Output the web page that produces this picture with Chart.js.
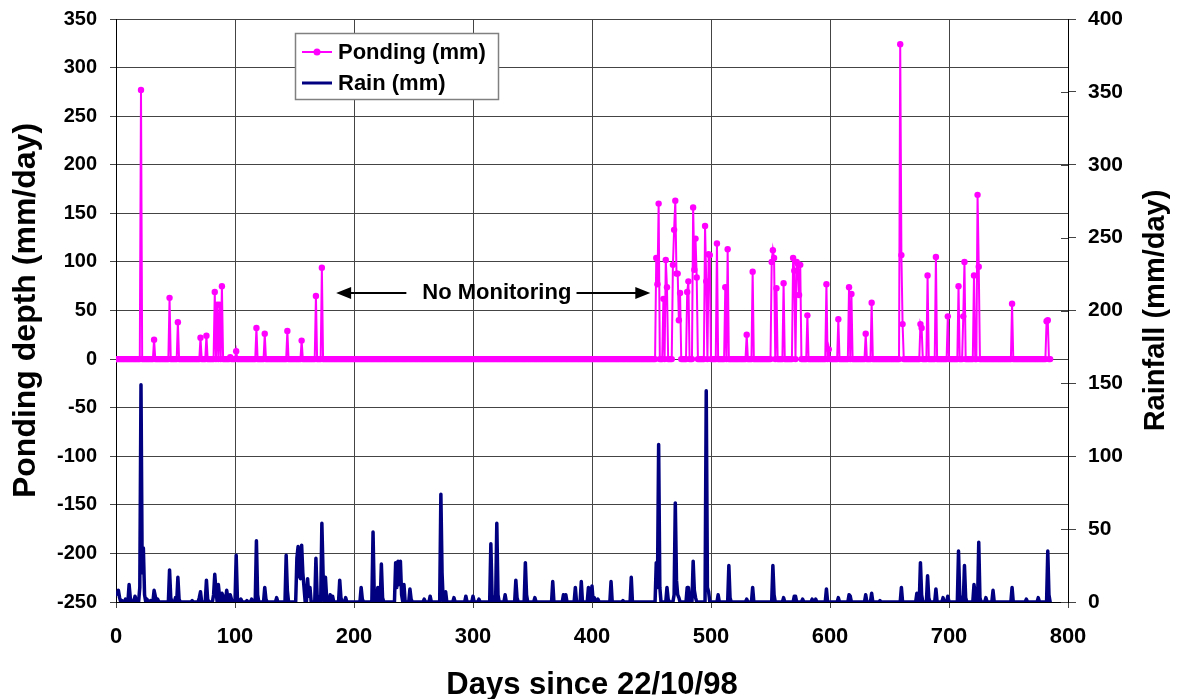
<!DOCTYPE html>
<html><head><meta charset="utf-8">
<script src="https://cdn.jsdelivr.net/npm/chart.js@4.4.0/dist/chart.umd.min.js"></script>
<style>html,body{margin:0;padding:0;background:#fff;}#wrap{width:1180px;height:699px;position:relative;}</style>
</head><body><div id="wrap"><canvas id="c" width="1180" height="699"></canvas></div>
<script>
// ---- data ----
const firstDay = 0;
const lastDay = 785;
const pondDays   = [21,32,45,52,71,76,83,85,87,89,96,101,118,125,144,156,168,173,
  454,455,456,460,462,463,468,469,470,471,472,473,474,480,481,485,486,487,488,495,496,498,499,
  505,512,514,530,535,551,552,553,555,561,569,570,572,573,574,575,581,597,599,607,616,618,630,635,
  659,660,661,676,677,682,689,699,708,712,713,721,724,725,753,782,783];
const pondValues = [277,20,63,38,22,24,69,56,56,75,2,8,32,26,29,19,65,94,
  104,77,160,62,102,74,97,133,163,88,88,40,68,69,80,156,92,124,84,137,80,108,107,
  119,74,113,25,90,100,112,104,73,78,104,91,100,98,66,97,45,77,10,41,74,67,26,58,
  324,107,36,36,32,86,105,44,75,44,100,86,169,95,57,39,40];
const rainDays   = [0,1,2,3,5,8,11,12,16,17,20,21,22,23,24,26,29,32,33,35,45,46,50,52,53,64,70,71,76,77,
  82,83,84,86,87,89,90,93,94,96,97,101,102,105,110,114,118,119,125,126,135,143,144,152,153,154,155,156,157,
  158,161,162,163,168,169,173,174,176,177,180,182,188,189,193,206,207,216,217,220,223,224,235,236,237,238,239,240,
  242,247,248,259,264,273,274,277,284,294,300,305,315,316,320,321,327,336,337,344,345,352,367,376,378,386,
  391,397,400,402,405,416,426,433,454,455,456,457,463,464,469,470,471,472,473,480,481,485,486,487,496,497,
  498,506,515,516,530,535,552,553,561,570,571,577,585,588,597,607,616,617,630,635,642,660,673,676,677,
  682,683,689,695,699,708,709,713,714,721,722,725,726,731,737,753,765,775,783,784];
const rainValues = [5,6,8,3,1,2,12,3,4,1,10,149,20,37,5,2,1,8,4,2,22,3,3,17,2,1,3,7,15,2,
  5,19,8,12,4,6,4,8,3,5,2,32,3,2,1,2,42,5,10,2,3,32,8,30,38,18,16,39,20,
  10,16,4,10,30,5,54,20,17,3,5,4,15,3,3,10,2,48,5,10,26,3,27,10,28,12,28,5,
  12,9,2,2,4,74,20,7,3,4,4,2,40,5,54,5,5,15,3,27,5,3,14,5,5,10,
  14,10,11,3,2,14,1,17,27,10,108,10,10,2,5,68,15,5,3,10,10,28,8,3,145,10,
  7,5,25,3,2,10,25,5,3,4,4,2,2,2,9,3,5,4,5,6,1,10,6,27,5,
  18,3,9,3,4,35,5,25,3,12,5,41,3,3,8,10,2,3,35,5];
const dayTicks   = [0,100,200,300,400,500,600,700,800];
const pondTicks  = [-250,-200,-150,-100,-50,0,50,100,150,200,250,300,350];
const rainTicks  = [0,50,100,150,200,250,300,350,400];
const seriesNames = ['Ponding (mm)', 'Rain (mm)'];
const xTitle = 'Days since 22/10/98';
const yTitle = 'Ponding depth (mm/day)';
const y2Title = 'Rainfall (mm/day)';
const noteText = 'No Monitoring';

// ---- build daily series ----
function daily(days, vals){
  const m = new Map(days.map((d,i)=>[d, vals[i]]));
  const out = [];
  for (let d = firstDay; d <= lastDay; d++) out.push({x:d, y: m.has(d) ? m.get(d) : 0});
  return out;
}
const pondData = daily(pondDays, pondValues);
const rainData = daily(rainDays, rainValues);

// ---- styles ----
const FONT = "'Liberation Sans', Arial, sans-serif";
const MAG = '#FF00FF', NAVY = '#000080', GRID = '#444444';

// annotation placement (data coords)
const note = {x: 320, y: 68, leftTip: 185, leftEnd: 244, rightStart: 387, rightTip: 449};

const extras = {
  id: 'extras',
  afterDraw(chart){
    const ctx = chart.ctx, ca = chart.chartArea;
    const sx = chart.scales.x, sy = chart.scales.y, s2 = chart.scales.y2;
    ctx.save();
    // inner right ticks
    ctx.strokeStyle = GRID; ctx.lineWidth = 1;
    rainTicks.forEach(v => {
      const y = Math.round(s2.getPixelForValue(v)) + 0.5;
      ctx.beginPath(); ctx.moveTo(ca.right - 7, y); ctx.lineTo(ca.right, y); ctx.stroke();
    });
    // right title, reading bottom-to-top
    ctx.save();
    ctx.translate(1156, (ca.top + ca.bottom)/2);
    ctx.rotate(-Math.PI/2);
    ctx.fillStyle = '#000'; ctx.font = 'bold 29px ' + FONT;
    ctx.textAlign = 'center'; ctx.textBaseline = 'middle';
    ctx.fillText(y2Title, 0, 0);
    ctx.restore();
    // annotation
    const ny = sy.getPixelForValue(note.y);
    ctx.fillStyle = '#000'; ctx.font = 'bold 22px ' + FONT;
    ctx.textAlign = 'center'; ctx.textBaseline = 'middle';
    ctx.fillText(noteText, sx.getPixelForValue(note.x), ny);
    ctx.strokeStyle = '#000'; ctx.lineWidth = 2;
    const arrow = (from, tip) => {
      const fx = sx.getPixelForValue(from), tx = sx.getPixelForValue(tip);
      const dir = Math.sign(tx - fx);
      ctx.beginPath(); ctx.moveTo(fx, ny); ctx.lineTo(tx - dir*12, ny); ctx.stroke();
      ctx.beginPath(); ctx.moveTo(tx, ny); ctx.lineTo(tx - dir*15, ny - 6); ctx.lineTo(tx - dir*15, ny + 6); ctx.closePath(); ctx.fill();
    };
    arrow(note.leftEnd, note.leftTip);
    arrow(note.rightStart, note.rightTip);
    // legend
    const lx = 295, ly = 33, lw = 203, lh = 66;
    ctx.fillStyle = '#fff'; ctx.fillRect(lx, ly, lw, lh);
    ctx.strokeStyle = '#808080'; ctx.lineWidth = 1.5; ctx.strokeRect(lx + 0.5, ly + 0.5, lw, lh);
    const ds = chart.data.datasets;
    const rows = [ly + 19, ly + 50];
    ds.forEach((d, i) => {
      const ry = rows[i];
      ctx.strokeStyle = d.borderColor; ctx.lineWidth = Math.min(d.borderWidth, 3);
      ctx.beginPath(); ctx.moveTo(lx + 7, ry); ctx.lineTo(lx + 37, ry); ctx.stroke();
      if (d.pointRadius > 0) {
        ctx.fillStyle = d.pointBackgroundColor;
        ctx.beginPath(); ctx.arc(lx + 22, ry, 3.5, 0, Math.PI*2); ctx.fill();
      }
      ctx.fillStyle = '#000'; ctx.font = 'bold 22px ' + FONT;
      ctx.textAlign = 'left'; ctx.textBaseline = 'middle';
      ctx.fillText(d.label, lx + 43, ry + 1);
    });
    ctx.restore();
  }
};

const noVertPad = s => { s.paddingTop = 0; s.paddingBottom = 0; };

new Chart(document.getElementById('c'), {
  type: 'line',
  data: {
    datasets: [
      {label: seriesNames[0], data: pondData, yAxisID: 'y', borderColor: MAG, backgroundColor: MAG,
       borderWidth: 2, pointRadius: 3.2, pointBackgroundColor: MAG, pointBorderWidth: 0, pointBorderColor: MAG, tension: 0, order: 1},
      {label: seriesNames[1], data: rainData, yAxisID: 'y2', borderColor: NAVY, backgroundColor: NAVY,
       borderWidth: 3.5, borderJoinStyle: 'round', borderCapStyle: 'round', pointRadius: 0, tension: 0, order: 2}
    ]
  },
  options: {
    responsive: false, animation: false, devicePixelRatio: 1,
    layout: {padding: {top: 19, left: 0, right: 0, bottom: 0}},
    plugins: {legend: {display: false}, tooltip: {enabled: false}},
    scales: {
      x: {
        type: 'linear', position: 'bottom', min: 0, max: 800,
        afterBuildTicks: s => { s.ticks = dayTicks.map(v => ({value: v})); },
        afterFit: s => { s.height = 97; },
        ticks: {color: '#000', font: {family: FONT, size: 22, weight: 'bold'}, padding: 16, maxRotation: 0},
        grid: {color: GRID, lineWidth: 1, tickLength: 6},
        border: {color: '#000'},
        title: {display: true, text: xTitle, color: '#000', font: {family: FONT, size: 31, weight: 'bold', lineHeight: 1}, padding: {top: 0, bottom: -2}}
      },
      y: {
        position: 'left', min: -250, max: 350,
        afterBuildTicks: s => { s.ticks = pondTicks.map(v => ({value: v})); },
        afterFit: s => { s.width = 116; noVertPad(s); },
        ticks: {color: '#000', font: {family: FONT, size: 20, weight: 'bold'}, padding: 13},
        grid: {color: GRID, lineWidth: 1, tickLength: 6},
        border: {color: '#000'},
        title: {display: true, text: yTitle, color: '#000', font: {family: FONT, size: 32, weight: 'bold', lineHeight: 1}, padding: {top: 10, bottom: 0}}
      },
      y2: {
        position: 'right', min: 0, max: 400,
        afterBuildTicks: s => { s.ticks = rainTicks.map(v => ({value: v})); },
        afterFit: s => { s.width = 112; noVertPad(s); },
        ticks: {color: '#000', font: {family: FONT, size: 21, weight: 'bold'}, padding: 12},
        grid: {drawOnChartArea: false, color: GRID, tickLength: 8},
        border: {color: '#000'}
      }
    }
  },
  plugins: [extras]
});
</script></body></html>
